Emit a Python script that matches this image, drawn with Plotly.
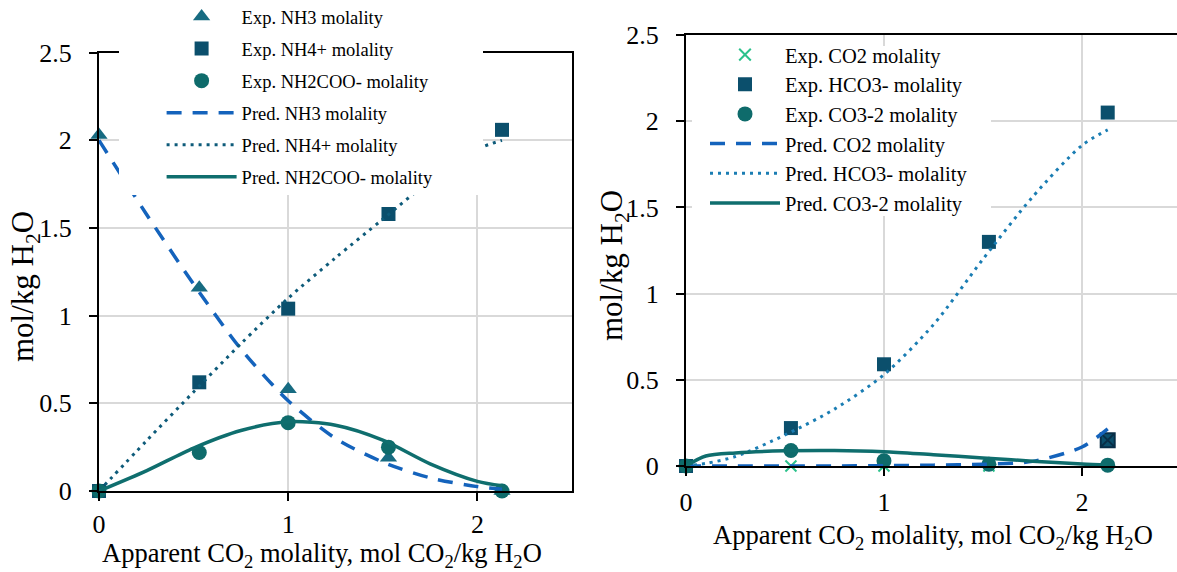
import plotly.graph_objects as go

# ---------------- data ----------------
x_exp = [0.0, 0.53, 1.0, 1.53, 2.13]

# left chart (ammonia species)
nh3_exp = [2.03, 1.16, 0.58, 0.19, 0.0]
nh4_exp = [0.0, 0.62, 1.04, 1.58, 2.06]
nh2coo_exp = [0.0, 0.22, 0.39, 0.25, 0.0]

x_pred_left = [0.0, 0.25, 0.5, 0.75, 1.0, 1.25, 1.5, 1.75, 2.0, 2.13]
nh3_pred = [2.0, 1.58, 1.18, 0.81, 0.515, 0.3, 0.165, 0.075, 0.025, 0.012]
nh4_pred = [0.0, 0.285, 0.565, 0.84, 1.1, 1.33, 1.55, 1.77, 1.95, 2.0]
nh2coo_pred = [0.0, 0.115, 0.245, 0.345, 0.395, 0.375, 0.29, 0.155, 0.055, 0.03]

# right chart (carbon species)
co2_exp = [0.0, 0.0, 0.0, 0.0, 0.15]
hco3_exp = [0.0, 0.22, 0.59, 1.30, 2.05]
co3_exp = [0.0, 0.09, 0.03, 0.01, 0.005]

x_pred_right = [0.0, 0.1, 0.25, 0.5, 0.75, 1.0, 1.25, 1.5, 1.75, 2.0, 2.13]
co2_pred = [0.0, 0.0, 0.0, 0.0, 0.0, 0.002, 0.005, 0.01, 0.027, 0.11, 0.215]
hco3_pred = [0.0, 0.015, 0.055, 0.18, 0.33, 0.53, 0.82, 1.2, 1.56, 1.86, 1.95]
co3_pred = [0.0, 0.058, 0.076, 0.088, 0.09, 0.083, 0.065, 0.047, 0.028, 0.012, 0.006]

x_ticks = [0, 1, 2]
y_ticks = [0, 0.5, 1, 1.5, 2, 2.5]

x_title = "Apparent CO<sub>2</sub> molality, mol CO<sub>2</sub>/kg H<sub>2</sub>O"
y_title = "mol/kg H<sub>2</sub>O"

# ---------------- style ----------------
FONT = "Liberation Serif, Times New Roman, serif"
W, H = 1177, 572
C_TRI = "#176B81"
C_SQ = "#0B4F6C"
C_CIR = "#0E6B6B"
C_DASH = "#1463BC"
C_DOT_L = "#0E5B7A"
C_DOT_R = "#1A7DB3"
C_SOLID = "#0F6E6E"
C_X = "#2CC28C"
C_XDARK = "#082E47"

fig = go.Figure()


def marker_trace(x, y, name, symbol, color, xa, ya, leg, size=14):
    return go.Scatter(x=x, y=y, mode="markers", name=name, xaxis=xa, yaxis=ya,
                      legend=leg, legendgroup=name, cliponaxis=False,
                      marker=dict(symbol=symbol, size=size, color=color, opacity=1,
                                  line=dict(width=0)))


def line_trace(x, y, name, dash, color, xa, ya, leg, width=3.5):
    return go.Scatter(x=x, y=y, mode="lines", name=name, xaxis=xa, yaxis=ya,
                      legend=leg, legendgroup=name, cliponaxis=False,
                      line=dict(color=color, width=width, dash=dash, shape="spline",
                                smoothing=0.8))


# left
fig.add_trace(marker_trace(x_exp, nh3_exp, "Exp. NH3 molality", "triangle-up", C_TRI, "x", "y", "legend", 15))
fig.add_trace(marker_trace(x_exp, nh4_exp, "Exp. NH4+ molality", "square", C_SQ, "x", "y", "legend"))
fig.add_trace(marker_trace(x_exp, nh2coo_exp, "Exp. NH2COO- molality", "circle", C_CIR, "x", "y", "legend", 15))
fig.add_trace(line_trace(x_pred_left, nh3_pred, "Pred. NH3 molality", "15px,11px", C_DASH, "x", "y", "legend"))
fig.add_trace(line_trace(x_pred_left, nh4_pred, "Pred. NH4+ molality", "3px,5px", C_DOT_L, "x", "y", "legend", 3))
fig.add_trace(line_trace(x_pred_left, nh2coo_pred, "Pred. NH2COO- molality", "solid", C_SOLID, "x", "y", "legend"))

# right
co2_symbols = ["x-thin", "x-thin", "x-thin", "x-thin", "square-x"]
co2_fill = [C_X, C_X, C_X, C_X, C_SQ]
co2_line = [C_X, C_X, C_X, C_X, C_XDARK]
co2_size = [11, 11, 11, 11, 14]
fig.add_trace(go.Scatter(x=x_exp, y=co2_exp, mode="markers", name="Exp. CO2 molality",
                         xaxis="x2", yaxis="y2", legend="legend2", legendgroup="co2e",
                         cliponaxis=False,
                         marker=dict(symbol=co2_symbols, size=co2_size, color=co2_fill,
                                     opacity=1, line=dict(width=2, color=co2_line))))
fig.add_trace(marker_trace(x_exp, hco3_exp, "Exp. HCO3- molality", "square", C_SQ, "x2", "y2", "legend2"))
fig.add_trace(marker_trace(x_exp, co3_exp, "Exp. CO3-2 molality", "circle", C_CIR, "x2", "y2", "legend2", 15))
fig.add_trace(line_trace(x_pred_right, co2_pred, "Pred. CO2 molality", "15px,11px", C_DASH, "x2", "y2", "legend2"))
fig.add_trace(line_trace(x_pred_right, hco3_pred, "Pred. HCO3- molality", "3px,5px", C_DOT_R, "x2", "y2", "legend2", 3))
fig.add_trace(line_trace(x_pred_right, co3_pred, "Pred. CO3-2 molality", "solid", C_SOLID, "x2", "y2", "legend2"))

axis_common = dict(
    showline=True, linecolor="black", linewidth=2, mirror=True, automargin=False,
    showgrid=True, gridcolor="#D9D9D9", gridwidth=1.5, zeroline=False,
    ticks="outside", ticklen=8, tickwidth=2, tickcolor="black",
    tickfont=dict(family=FONT, size=26, color="black"),
)
xt_font = dict(family=FONT, size=26.5, color="black")
yt_font = dict(family=FONT, size=31, color="black")


def title_ann(text, px, py, font, angle=0):
    return dict(text=text, xref="paper", yref="paper", x=px / W, y=1 - py / H,
                xanchor="center", yanchor="middle", showarrow=False,
                textangle=angle, font=font)


fig.update_layout(
    width=W, height=H, margin=dict(l=0, r=0, t=0, b=0, pad=0, autoexpand=False),
    paper_bgcolor="white", plot_bgcolor="white",
    xaxis=dict(domain=[99 / W, 572 / W], range=[0, 2.5], tickvals=x_ticks, anchor="y",
               ticklabelstandoff=1, **axis_common),
    yaxis=dict(domain=[1 - 491 / H, 1 - 52.7 / H], range=[0, 2.5], tickvals=y_ticks, anchor="x",
               ticklabelstandoff=12, **axis_common),
    xaxis2=dict(domain=[686 / W, 1.0], range=[0, 2.48], tickvals=x_ticks, anchor="y2",
                ticklabelstandoff=4, **axis_common),
    yaxis2=dict(domain=[1 - 466 / H, 1 - 35 / H], range=[0, 2.5], tickvals=y_ticks, anchor="x2",
                ticklabelstandoff=12, **axis_common),
    annotations=[
        title_ann(x_title, 322, 555, xt_font),
        title_ann(x_title, 933, 537, xt_font),
        title_ann(y_title, 25, 287, yt_font, -90),
        title_ann(y_title, 614, 266, yt_font, -90),
    ],
    legend=dict(x=161.6 / W, y=1 + 2 / H, xanchor="left", yanchor="top", bgcolor="rgba(0,0,0,0)",
                font=dict(family=FONT, size=18.5, color="black"), itemwidth=70,
                tracegroupgap=5, borderwidth=0),
    legend2=dict(x=705 / W, y=1 - 34.8 / H, xanchor="left", yanchor="top", bgcolor="rgba(0,0,0,0)",
                 font=dict(family=FONT, size=20.5, color="black"), itemwidth=70,
                 tracegroupgap=0, borderwidth=0),
    shapes=[
        dict(type="rect", xref="paper", yref="paper", layer="above",
             x0=119 / W, x1=483 / W, y0=1 - 195 / H, y1=1.0,
             fillcolor="white", line=dict(width=0)),
        dict(type="rect", xref="paper", yref="paper", layer="above",
             x0=692 / W, x1=991 / W, y0=1 - 216 / H, y1=1 - 46 / H,
             fillcolor="white", line=dict(width=0)),
    ],
)
fig.layout.yaxis2.mirror = False

fig.write_html("out.html", config={"displayModeBar": False},
               post_script="document.body.style.margin='0px';document.body.style.overflow='hidden';")
